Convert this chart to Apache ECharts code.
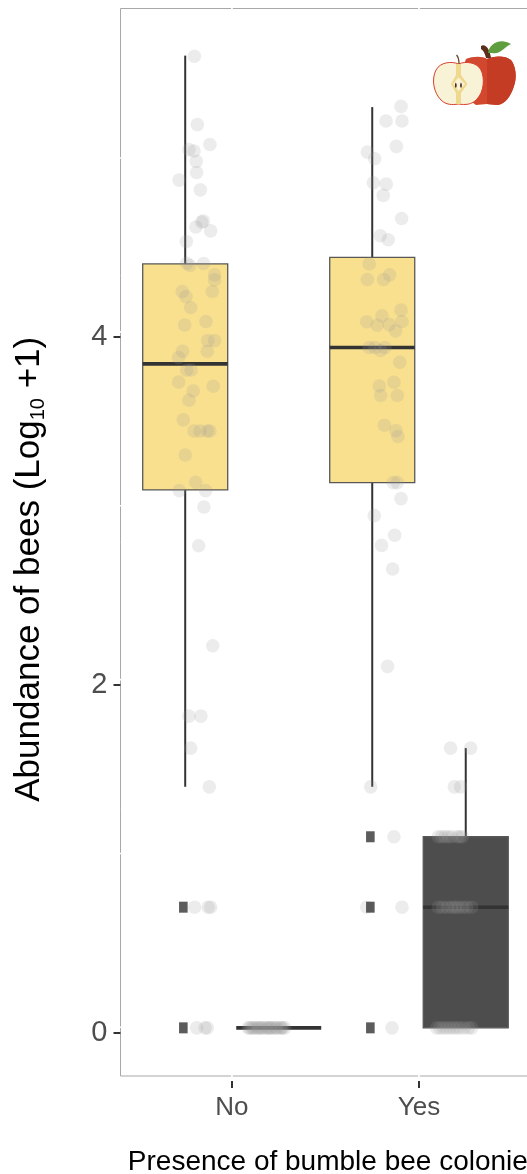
<!DOCTYPE html>
<html><head><meta charset="utf-8">
<style>html,body{margin:0;padding:0;background:#fff}#c{width:527px;height:1174px}</style>
<script src="https://cdn.jsdelivr.net/npm/echarts@6/dist/echarts.min.js"></script>
</head><body><div id="c"></div>
<script>
const xCategories = [[1,'No'],[2,'Yes']];
const yTicks = [0,2,4];
const gridY = [0.03,1.03,2.03,3.03,4.03,5.03];
const gridX = [1,2];
// x, lower whisker, q1, median, q3, upper whisker, fill
const boxNoWithout  = [0.75,1.413,3.121,3.846,4.421,5.619];
const boxNoWith     = [1.25,0.027,0.027,0.027,0.027,0.027];
const boxYesWithout = [1.75,1.413,3.163,3.940,4.458,5.323];
const boxYesWith    = [2.25,0.027,0.027,0.721,1.126,1.636];
const outliers = [[0.74,0.721],[0.74,0.027],[1.74,1.126],[1.74,0.721],[1.74,0.027]];
const ptsNoA = [[.799,5.615],[.815,5.222],[.882,5.108],[.770,5.078],[.797,5.070],[.809,5.011],[.811,4.947],[.717,4.903],[.831,4.847],[.847,4.667],[.838,4.661],[.807,4.633],[.886,4.611],[.756,4.550],
[.758,4.425],[.775,4.412],[.848,4.423],[.907,4.358],[.907,4.329],[.895,4.262],[.734,4.262],[.754,4.233],[.779,4.170],[.747,4.070],[.861,4.090],[.870,3.980],[.907,3.980],[.868,3.919],[.736,3.919],[.715,3.882],[.758,3.811],[.782,3.811],[.715,3.742],[.900,3.717],[.793,3.690],[.770,3.637],[.740,3.524],[.797,3.460],[.829,3.460],[.868,3.460],[.882,3.460],[.750,3.322],[.806,3.165],[.718,3.117],[.859,3.117],[.850,3.023],[.822,2.800],[.897,2.225],[.770,1.820],[.834,1.820],[.779,1.636],[.879,1.413],
[.800,.721],[.873,.721],[.886,.721],[.811,.027],[.856,.027],[.868,.027]];
const ptsNoB = [1.087,1.095,1.105,1.114,1.123,1.135,1.142,1.150,1.160,1.168,1.182,1.190,1.198,1.205,1.212,1.226,1.234,1.242,1.257,1.264,1.271,1.283].map(x=>[x,.027]);
const ptsYesA = [[1.904,5.327],[1.824,5.243],[1.909,5.243],[1.879,5.097],[1.724,5.064],[1.763,5.026],[1.756,4.888],[1.825,4.880],[1.809,4.815],[1.907,4.682],[1.793,4.583],[1.836,4.560],
[1.734,4.421],[1.724,4.331],[1.811,4.331],[1.843,4.358],[1.904,4.155],[1.802,4.122],[1.909,4.090],[1.720,4.088],[1.777,4.068],[1.841,4.072],[1.875,4.036],[1.734,3.940],[1.765,3.940],[1.795,3.923],[1.818,3.940],[1.897,3.855],[1.866,3.740],[1.788,3.719],[1.795,3.664],[1.884,3.664],[1.815,3.493],[1.877,3.462],[1.888,3.428],[1.863,3.163],[1.884,3.163],[1.904,3.071],[1.761,2.973],[1.870,2.860],[1.800,2.802],[1.859,2.666],[1.832,2.106],[1.742,1.413],
[1.866,1.126],[1.720,.721],[1.909,.721],[1.856,.027]];
const ptsYesB = [[2.169,1.636],[2.276,1.636],[2.189,1.413],[2.223,1.413],
[2.103,1.126],[2.121,1.126],[2.139,1.126],[2.157,1.126],[2.175,1.126],[2.205,1.126],[2.219,1.126],[2.232,1.126],
[2.103,.721],[2.127,.721],[2.152,.721],[2.175,.721],[2.193,.721],[2.210,.721],[2.234,.721],[2.255,.721],[2.282,.721],
[2.094,.027],[2.112,.027],[2.130,.027],[2.148,.027],[2.166,.027],[2.184,.027],[2.201,.027],[2.219,.027],[2.241,.027],[2.264,.027],[2.282,.027]];

const FONT = '"Liberation Sans", Arial, sans-serif';
const YELLOW = '#F9E08F', DARK = '#4D4D4D', INK = '#333333';
const boxWidth = 0.4545;

function boxItem(params, api){
  const x = api.value(0), lo = api.value(1), q1 = api.value(2), med = api.value(3), q3 = api.value(4), hi = api.value(5);
  const hw = api.size([boxWidth,0])[0]/2;
  const c = v => api.coord([x,v]);
  const [cx, yQ1] = c(q1), yQ3 = c(q3)[1], yMed = c(med)[1], yLo = c(lo)[1], yHi = c(hi)[1];
  const line = (x1,y1,x2,y2,w,color) => ({type:'line',shape:{x1,y1,x2,y2},style:{stroke:color||INK,lineWidth:w,lineCap:'butt'}});
  const kids = [line(cx,yQ3,cx,yHi,2), line(cx,yQ1,cx,yLo,2)];
  if (q3 > q1) kids.push({type:'rect',shape:{x:cx-hw,y:yQ3,width:hw*2,height:yQ1-yQ3},style:{fill:api.value(6)===1?DARK:YELLOW,stroke:'#575757',lineWidth:1.3}});
  kids.push(line(cx-hw,yMed,cx+hw,yMed,3.6));
  return {type:'group',children:kids};
}
const boxData = [[...boxNoWithout,0],[...boxNoWith,1],[...boxYesWithout,0],[...boxYesWith,1]];
const pointStyle = {color:'rgba(153,153,153,0.23)'};
const ptSeries = (d,n) => ({type:'scatter',name:n,data:d,symbolSize:13.6,itemStyle:pointStyle,silent:true,z:5,large:false,progressive:0});

function appleItem(){
  const mk = (d,s) => ({type:'path',shape:{pathData:d},style:s});
  return {type:'group',silent:true,children:[
   mk('M466 59 C473 56 483 56 487 59 C493 56 505 55 511 60 C516 66 517 78 514 86 C511 96 505 104 498 105 C493 105 490 104 487 104 C483 104 480 105 476 105 L455 90 Z',{fill:'#D2482E'}),
   mk('M487 59 C493 56 505 55 511 60 C516 66 517 78 514 86 C511 96 505 104 498 105 C493 105 490 104 487 104 Z',{fill:'#C53C25'}),
   mk('M481 46 C485 43 490 49 491 58 L486 58 C485 53 483 50 481 49 Z',{fill:'#5A2E18'}),
   mk('M488 53 C489 44 500 37 511 44 C505 46 501 55 492 53 Z',{fill:'#5F9E3F'}),
   mk('M458.5 64 C452 61 440 62 436 70 C431 80 434 93 441 100 C446 105 452 105 458.5 104 C465 105 472 105 477 99 C484 92 485 78 481 70 C477 62 465 61 458.5 64 Z',{fill:'#F8F3D6',stroke:'#D93F2B',lineWidth:1}),
   mk('M456 64 L461 64 L461 75 L467.5 84 L461 93 L461 104 L456 104 L456 93 L451 84 L456 75 Z',{fill:'#EFD98F'}),
   mk('M458.5 77.5 L465 84 L458.5 91 L453 84 Z',{fill:'#F8F3D6'}),
   mk('M455.8 82.5 C457 84 457 87 455.8 88 C454.6 87 454.6 84 455.8 82.5 Z',{fill:'#4E2A17'}),
   mk('M461 82.5 C462.2 84 462.2 87 461 88 C459.8 87 459.8 84 461 82.5 Z',{fill:'#4E2A17'}),
   mk('M456.5 55 C458.5 57 459 60 459 64',{fill:'none',stroke:'#6B4A2A',lineWidth:1.3})
  ]};
}

const chart = echarts.init(document.getElementById('c'),null,{renderer:'canvas',width:527,height:1174});
chart.setOption({
  animation:false,
  backgroundColor:'#ffffff',
  grid:{show:true,left:120.5,top:8.5,right:-4.2,bottom:98,outerBoundsMode:'none',borderColor:'#A8A8A8',borderWidth:1,backgroundColor:'transparent',containLabel:false},
  xAxis:{type:'value',min:0.404,max:2.6,offset:5,
    axisLine:{show:false,onZero:false},
    axisTick:{show:true,length:7,customValues:xCategories.map(c=>c[0]),lineStyle:{color:INK,width:2}},
    axisLabel:{show:true,customValues:xCategories.map(c=>c[0]),margin:14,fontFamily:FONT,fontSize:26,color:'#4D4D4D',
      formatter:v=>(xCategories.find(c=>c[0]===v)||[,''])[1]},
    splitLine:{show:false},
    name:'Presence of bumble bee colonies',nameLocation:'middle',nameGap:67,
    nameTextStyle:{fontFamily:FONT,fontSize:28,color:'#000',padding:[0,0,0,18]}},
  yAxis:{type:'value',min:-0.25,max:5.89,
    axisLine:{show:false,onZero:false},
    axisTick:{show:true,length:7,customValues:yTicks,lineStyle:{color:INK,width:2}},
    axisLabel:{show:true,customValues:yTicks,margin:13,fontFamily:FONT,fontSize:29,color:'#4D4D4D',padding:[4,0,0,0],formatter:v=>String(v)},
    splitLine:{show:false},
    name:'{a|Abundance of bees (Log}{s|10}{a| +1)}',nameLocation:'middle',nameGap:72,
    nameTextStyle:{padding:[0,54,0,0],rich:{a:{fontFamily:FONT,fontSize:35,color:'#000'},s:{fontFamily:FONT,fontSize:20,color:'#000',verticalAlign:'bottom',padding:[18,0,0,0]}}}},
  series:[
    {type:'custom',name:'gridY',silent:true,clip:false,z:1,coordinateSystem:'cartesian2d',data:gridY.map(v=>[0.404,v]),
      encode:{x:0,y:1},
      renderItem:(p,api)=>{const a=api.coord([0.404,api.value(1)]);return {type:'line',shape:{x1:a[0]-1.5,y1:a[1],x2:a[0]+410,y2:a[1]},style:{stroke:'#fff',lineWidth:1.6}};}},
    {type:'custom',name:'gridX',silent:true,clip:false,z:1,coordinateSystem:'cartesian2d',data:gridX.map(v=>[v,-0.25]),
      encode:{x:0,y:1},
      renderItem:(p,api)=>{const a=api.coord([api.value(0),-0.25]);return {type:'line',shape:{x1:a[0],y1:a[1]+1.5,x2:a[0],y2:a[1]-1069},style:{stroke:'#fff',lineWidth:1.8}};}},
    {type:'custom',name:'boxes',silent:true,z:3,coordinateSystem:'cartesian2d',data:boxData,encode:{x:0,y:[1,2,3,4,5]},renderItem:boxItem},
    ptSeries(ptsNoA,'No without'),ptSeries(ptsNoB,'No with'),ptSeries(ptsYesA,'Yes without'),ptSeries(ptsYesB,'Yes with'),
    {type:'scatter',name:'outliers',data:outliers,symbol:'rect',symbolSize:[8.6,11],itemStyle:{color:'#333'},silent:true,z:6},
    {type:'custom',name:'apple',coordinateSystem:'none',silent:true,z:20,data:[0],renderItem:appleItem}
  ]
});
</script></body></html>
